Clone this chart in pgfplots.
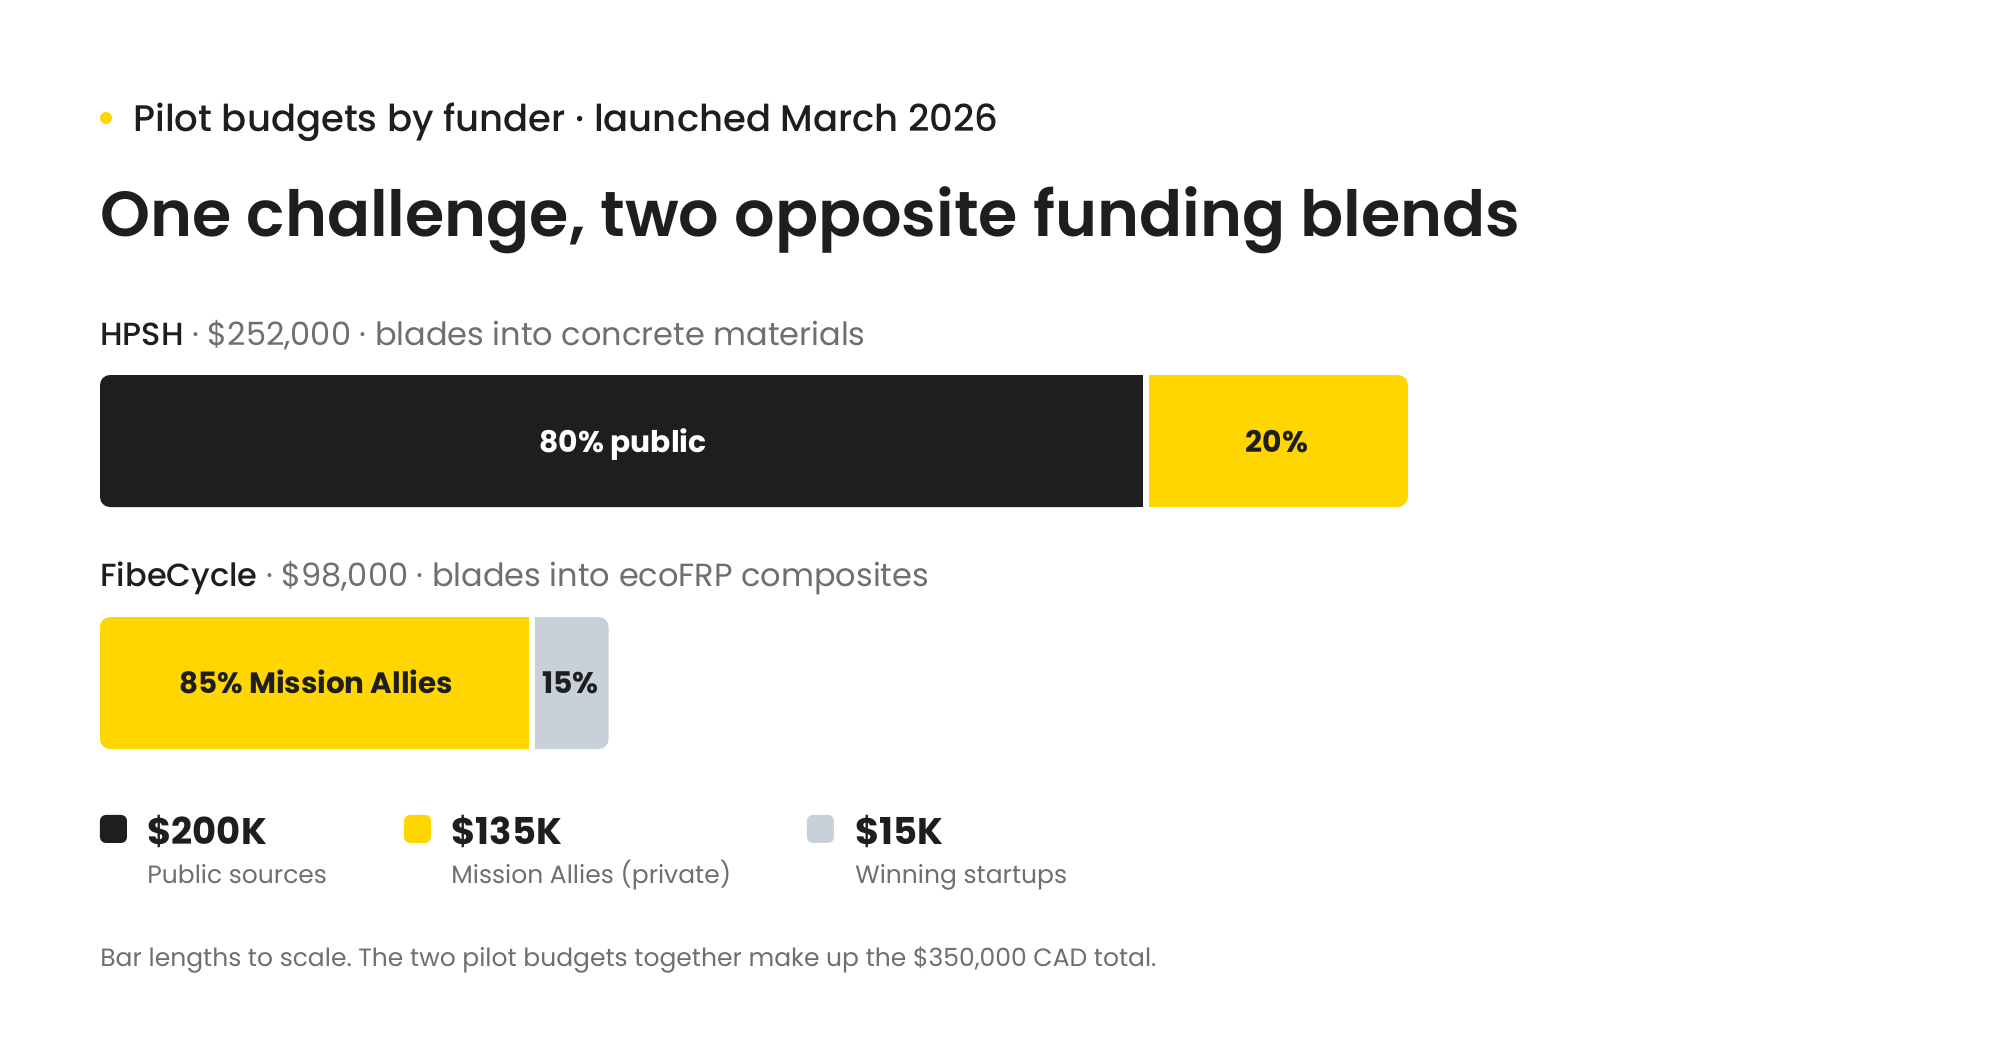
\documentclass[border=0pt]{standalone}
\usepackage{pgfplots}
\pgfplotsset{compat=1.18}
\usepackage{fontspec}
\setmainfont{Poppins}
\IfFontExistsTF{Poppins Medium}{\newfontfamily\pmed{Poppins Medium}}{\newfontfamily\pmed{Poppins}}
\IfFontExistsTF{Poppins SemiBold}{\newfontfamily\psemi{Poppins SemiBold}}{\def\psemi{\bfseries}}
\IfFontExistsTF{Poppins Bold}{\newfontfamily\pbold{Poppins Bold}}{\def\pbold{\bfseries}}
\definecolor{ink}{HTML}{1E1E20}
\definecolor{sun}{HTML}{FFD600}
\definecolor{mist}{HTML}{C8D0DA}
\definecolor{muted}{HTML}{6E6E73}
\frenchspacing
\begin{document}
\begin{tikzpicture}
\fill[white] (0,0) rectangle (1000bp,520bp);
\begin{axis}[
  at={(0,0)}, anchor=south west,
  scale only axis, width=1000bp, height=520bp,
  xmin=-19.268, xmax=366.089,
  ymin=0, ymax=1040, y dir=reverse,
  hide axis, clip=false,
]
% HPSH: 80% public (201.6k), 20% Mission Allies (50.4k)  -- values in k$
\addplot[fill=ink, draw=none, rounded corners=5bp] coordinates {(100,375) (201.6,375) (201.6,507) (0,507) (0,375)} --cycle;
\addplot[fill=ink, draw=none] coordinates {(100,375) (201.6,375) (201.6,507) (100,507)} --cycle;
\addplot[fill=sun, draw=none, rounded corners=5bp] coordinates {(230,375) (252,375) (252,507) (201.6,507) (201.6,375)} --cycle;
\addplot[fill=sun, draw=none] coordinates {(201.6,375) (230,375) (230,507) (201.6,507)} --cycle;
\addplot[white, line width=3bp] coordinates {(201.6,372) (201.6,510)};
% FibeCycle: 85% Mission Allies (83.3k), 15% startups (14.7k)
\addplot[fill=sun, draw=none, rounded corners=5bp] coordinates {(40,617) (83.3,617) (83.3,749) (0,749) (0,617)} --cycle;
\addplot[fill=sun, draw=none] coordinates {(40,617) (83.3,617) (83.3,749) (40,749)} --cycle;
\addplot[fill=mist, draw=none, rounded corners=5bp] coordinates {(90,617) (98,617) (98,749) (83.3,749) (83.3,617)} --cycle;
\addplot[fill=mist, draw=none] coordinates {(83.3,617) (90,617) (90,749) (83.3,749)} --cycle;
\addplot[white, line width=3bp] coordinates {(83.3,614) (83.3,752)};
% segment labels
\node[anchor=base, text=white, font=\fontsize{14.9bp}{18bp}\pbold] at (axis cs:100.8,452) {80\% public};
\node[anchor=base, text=ink, font=\fontsize{14.9bp}{18bp}\pbold] at (axis cs:226.8,452) {20\%};
\node[anchor=base, text=ink, font=\fontsize{14.7bp}{18bp}\pbold] at (axis cs:41.65,693) {85\% Mission Allies};
\node[anchor=base, text=ink, font=\fontsize{14.9bp}{18bp}\pbold] at (axis cs:90.65,693) {15\%};
\end{axis}
\begin{scope}[x=0.5bp, y=-0.5bp, yshift=520bp]
\fill[sun] (106,118) circle (6);
\node[anchor=base west, inner sep=0pt, text=ink, font=\fontsize{18.5bp}{22bp}\pmed] at (133,132) {Pilot budgets by funder · launched March 2026};
\node[anchor=base west, inner sep=0pt, text=ink, font=\fontsize{31.8bp}{38bp}\psemi] at (100,237) {One challenge, two opposite funding blends};
\node[anchor=base west, inner sep=0pt, text=muted, font=\fontsize{16bp}{20bp}\selectfont] at (100,346) {{\pmed\color{ink}HPSH} · \$252,000 · blades into concrete materials};
\node[anchor=base west, inner sep=0pt, text=muted, font=\fontsize{16bp}{20bp}\selectfont] at (100,587) {{\pmed\color{ink}FibeCycle} · \$98,000 · blades into ecoFRP composites};
% legend
\fill[ink, rounded corners=3bp] (100,815) rectangle (127,843);
\fill[sun, rounded corners=3bp] (404,815) rectangle (431,843);
\fill[mist, rounded corners=3bp] (807,815) rectangle (834,843);
\node[anchor=base west, inner sep=0pt, text=ink, font=\fontsize{18.5bp}{22bp}\pbold] at (147,845) {\$200K};
\node[anchor=base west, inner sep=0pt, text=ink, font=\fontsize{18.5bp}{22bp}\pbold] at (451,845) {\$135K};
\node[anchor=base west, inner sep=0pt, text=ink, font=\fontsize{18.5bp}{22bp}\pbold] at (855,845) {\$15K};
\node[anchor=base west, inner sep=0pt, text=muted, font=\fontsize{12.5bp}{16bp}\selectfont] at (147,884) {Public sources};
\node[anchor=base west, inner sep=0pt, text=muted, font=\fontsize{12.5bp}{16bp}\selectfont] at (451,884) {Mission Allies (private)};
\node[anchor=base west, inner sep=0pt, text=muted, font=\fontsize{12.5bp}{16bp}\selectfont] at (855,884) {Winning startups};
\node[anchor=base west, inner sep=0pt, text=muted, font=\fontsize{12.5bp}{16bp}\selectfont] at (100,967) {Bar lengths to scale. The two pilot budgets together make up the \$350,000 CAD total.};
\end{scope}
\end{tikzpicture}
\end{document}
